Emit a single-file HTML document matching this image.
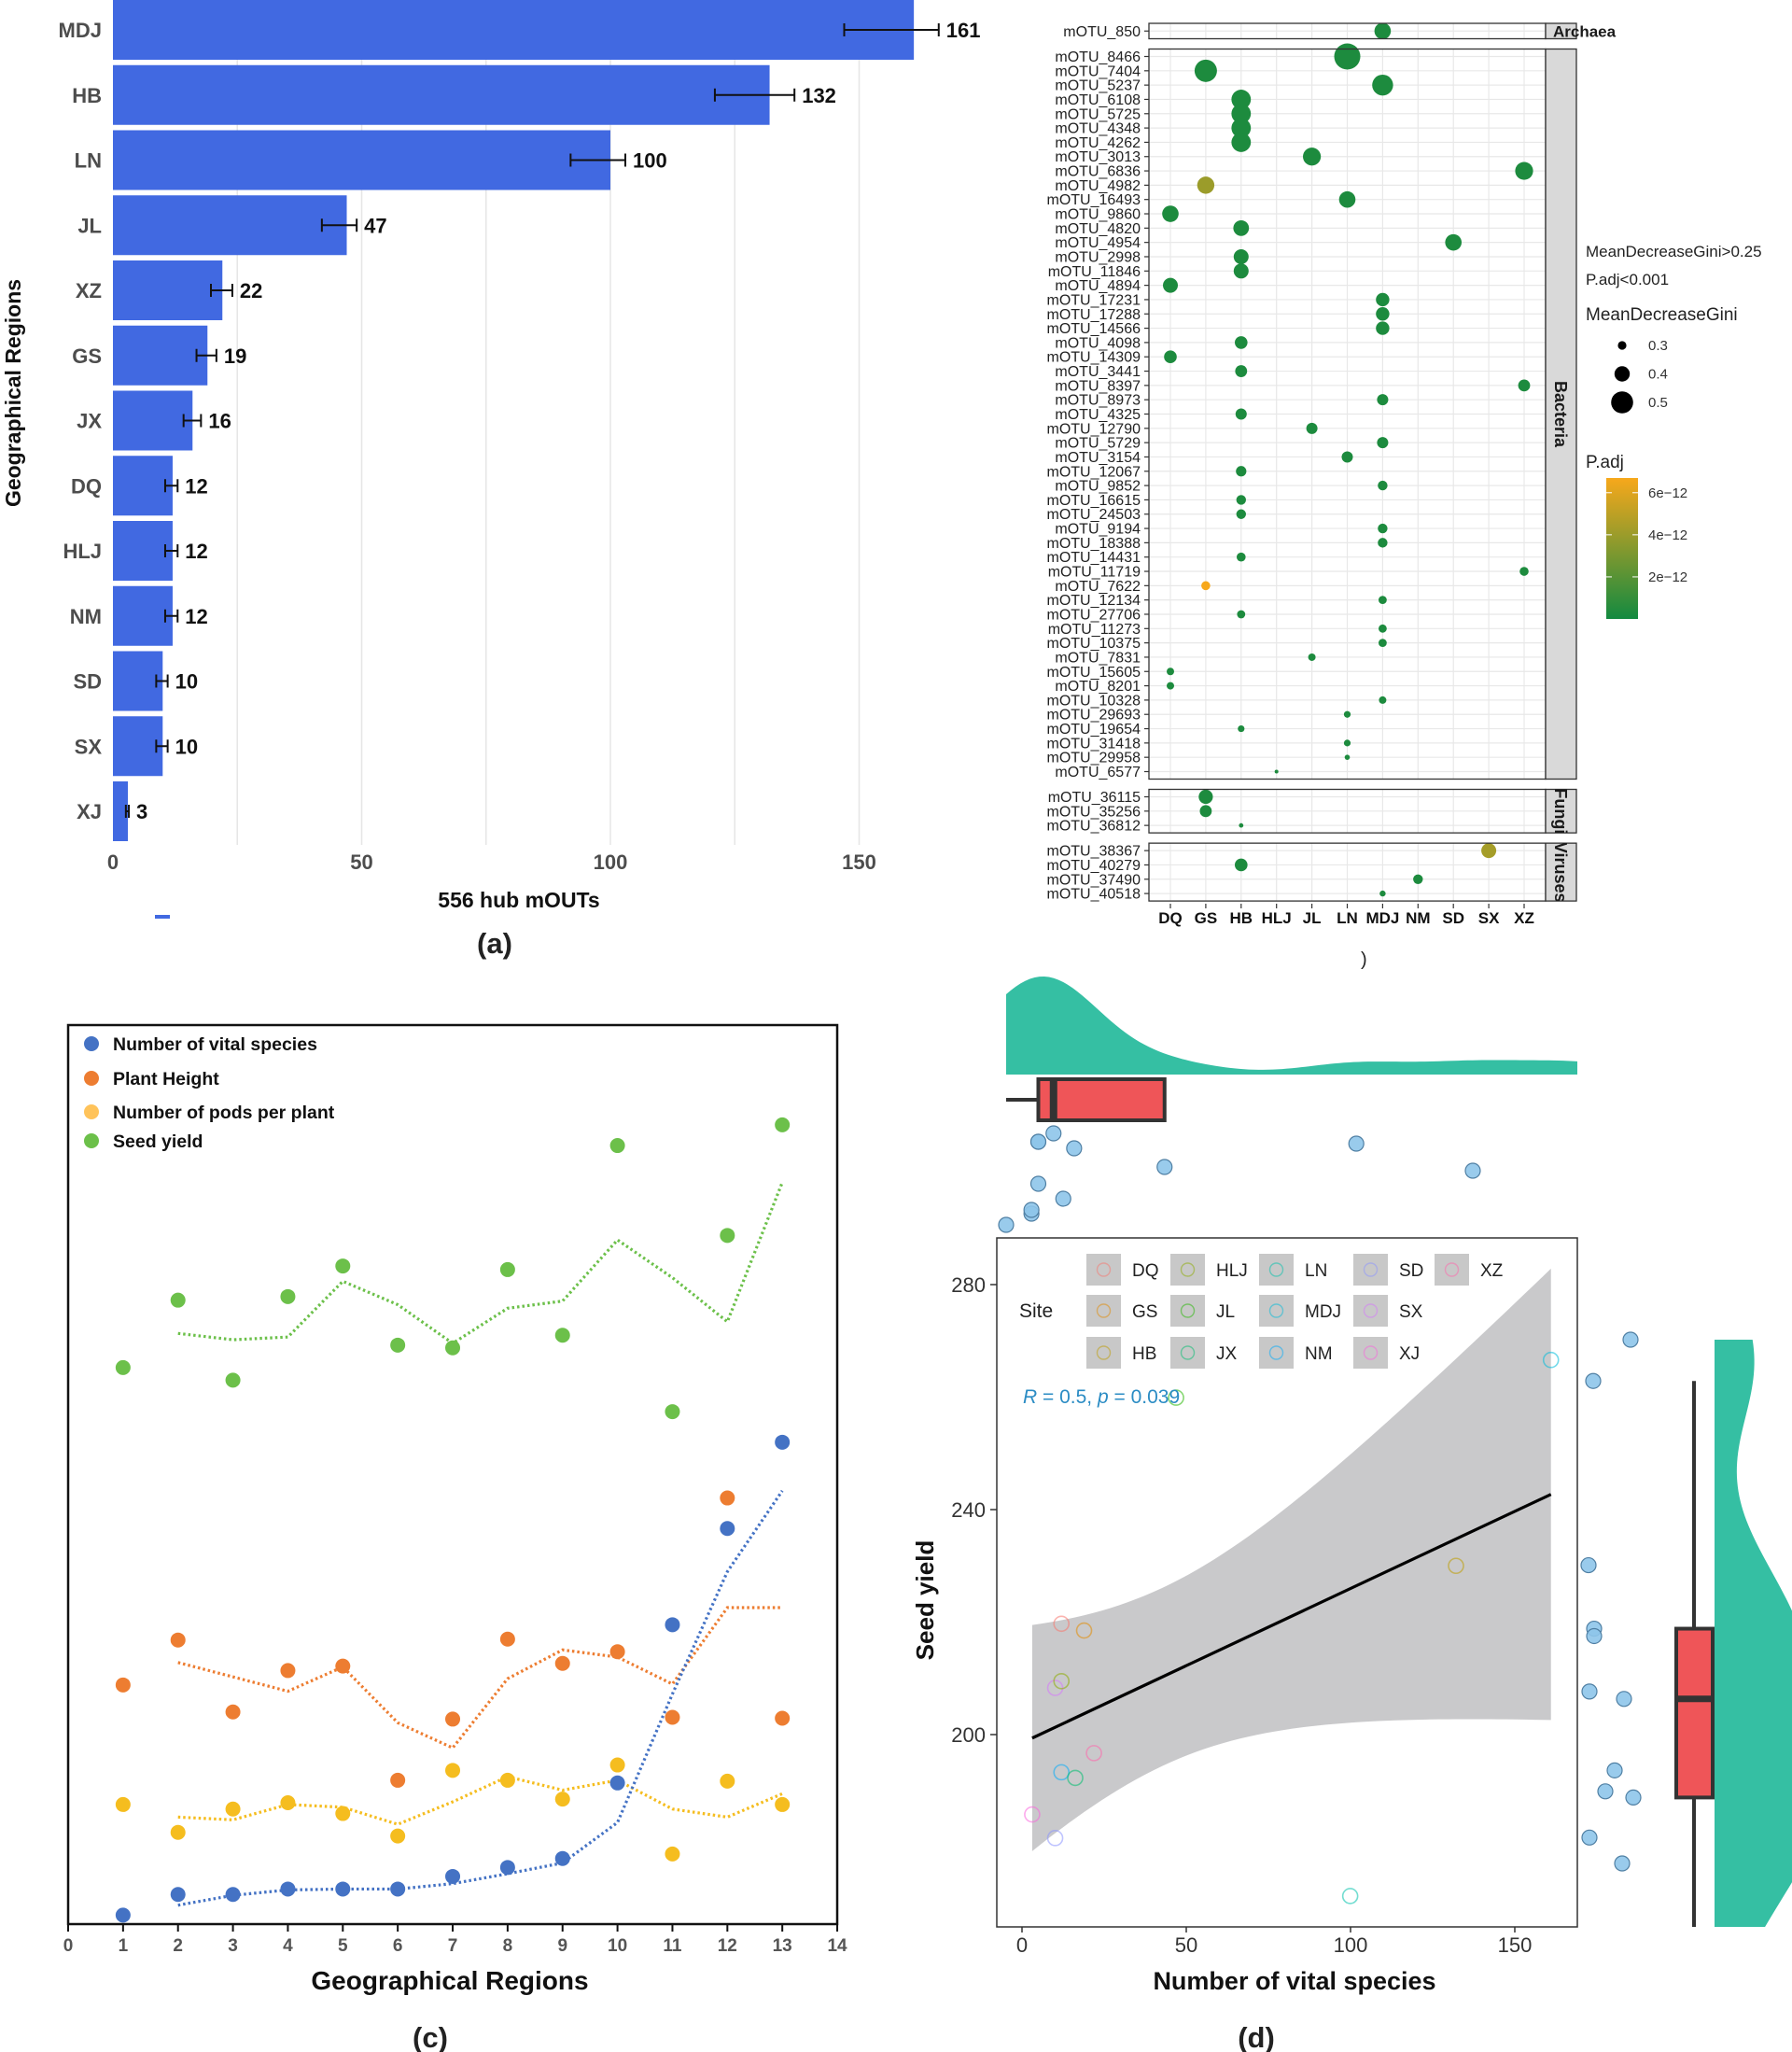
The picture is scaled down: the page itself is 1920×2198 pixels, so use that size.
<!DOCTYPE html>
<html><head><meta charset="utf-8"><style>
html,body{margin:0;padding:0;background:#fff;}
svg{display:block;font-family:"Liberation Sans",Arial,sans-serif;}
</style></head><body>
<svg id="fig" xmlns="http://www.w3.org/2000/svg" width="1920" height="2198" viewBox="0 0 1920 2198">
<rect x="0" y="0" width="1920" height="2198" fill="#fff"/>
</svg>
<script>
// ---------- Panel (a) data ----------
const regionsA=['MDJ','HB','LN','JL','XZ','GS','JX','DQ','HLJ','NM','SD','SX','XJ'];
const hubCounts=[161,132,100,47,22,19,16,12,12,12,10,10,3];
const errLow=[147,121,92,42,19.7,16.8,14.2,10.5,10.5,10.5,8.7,8.7,2.6];
const errHigh=[166,137,103,49,24,20.8,17.7,13,13,13,11,11,3.2];
const xTicksA=[0,50,100,150];
const xGridA=[25,50,75,100,125,150];
// ---------- Panel (b) data ----------
const colsB=['DQ','GS','HB','HLJ','JL','LN','MDJ','NM','SD','SX','XZ'];
const groupNames=['Archaea','Bacteria','Fungi','Viruses'];
const archaeaOtu=['mOTU_850'];
const archaeaCol=['MDJ'];
const archaeaGini=[0.42];
const archaeaPadj=[0.3e-12];
const bacteriaOtu=['mOTU_8466','mOTU_7404','mOTU_5237','mOTU_6108','mOTU_5725','mOTU_4348','mOTU_4262','mOTU_3013','mOTU_6836','mOTU_4982','mOTU_16493','mOTU_9860','mOTU_4820','mOTU_4954','mOTU_2998','mOTU_11846','mOTU_4894','mOTU_17231','mOTU_17288','mOTU_14566','mOTU_4098','mOTU_14309','mOTU_3441','mOTU_8397','mOTU_8973','mOTU_4325','mOTU_12790','mOTU_5729','mOTU_3154','mOTU_12067','mOTU_9852','mOTU_16615','mOTU_24503','mOTU_9194','mOTU_18388','mOTU_14431','mOTU_11719','mOTU_7622','mOTU_12134','mOTU_27706','mOTU_11273','mOTU_10375','mOTU_7831','mOTU_15605','mOTU_8201','mOTU_10328','mOTU_29693','mOTU_19654','mOTU_31418','mOTU_29958','mOTU_6577'];
const bacteriaCol=['LN','GS','MDJ','HB','HB','HB','HB','JL','XZ','GS','LN','DQ','HB','SD','HB','HB','DQ','MDJ','MDJ','MDJ','HB','DQ','HB','XZ','MDJ','HB','JL','MDJ','LN','HB','MDJ','HB','HB','MDJ','MDJ','HB','XZ','GS','MDJ','HB','MDJ','MDJ','JL','DQ','DQ','MDJ','LN','HB','LN','LN','HLJ'];
const bacteriaGini=[0.55,0.5,0.48,0.46,0.46,0.46,0.46,0.44,0.44,0.43,0.42,0.42,0.41,0.42,0.4,0.4,0.4,0.38,0.38,0.38,0.37,0.37,0.36,0.36,0.35,0.35,0.35,0.35,0.35,0.34,0.33,0.33,0.33,0.33,0.33,0.32,0.32,0.32,0.31,0.31,0.31,0.31,0.3,0.3,0.3,0.3,0.29,0.29,0.29,0.27,0.25];
const bacteriaPadj=[0.3e-12,0.3e-12,0.3e-12,0.3e-12,0.3e-12,0.3e-12,0.3e-12,0.3e-12,0.3e-12,4e-12,0.3e-12,0.3e-12,0.3e-12,0.3e-12,0.3e-12,0.3e-12,0.3e-12,0.3e-12,0.3e-12,0.3e-12,0.3e-12,0.3e-12,0.3e-12,0.3e-12,0.3e-12,0.3e-12,0.3e-12,0.3e-12,0.3e-12,0.3e-12,0.3e-12,0.3e-12,0.3e-12,0.3e-12,0.3e-12,0.3e-12,0.3e-12,6.7e-12,0.3e-12,0.3e-12,0.3e-12,0.3e-12,0.3e-12,0.3e-12,0.3e-12,0.3e-12,0.3e-12,0.3e-12,0.3e-12,0.3e-12,0.3e-12];
const fungiOtu=['mOTU_36115','mOTU_35256','mOTU_36812'];
const fungiCol=['GS','GS','HB'];
const fungiGini=[0.39,0.36,0.26];
const fungiPadj=[0.3e-12,0.3e-12,0.3e-12];
const virusOtu=['mOTU_38367','mOTU_40279','mOTU_37490','mOTU_40518'];
const virusCol=['SX','HB','NM','MDJ'];
const virusGini=[0.4,0.37,0.33,0.28];
const virusPadj=[4.3e-12,0.3e-12,0.3e-12,0.3e-12];
const sizeLegend=[0.3,0.4,0.5];
const padjTicks=[2e-12,4e-12,6e-12];
const padjTickLabels=['2e\u221212','4e\u221212','6e\u221212'];
// ---------- Panel (c) data ----------
const regionsC=[1,2,3,4,5,6,7,8,9,10,11,12,13];
const trendX=[2,3,4,5,6,7,8,9,10,11,12,13];
const vitalC=[1.0,3.3,3.3,3.9,3.9,3.9,5.3,6.3,7.3,15.7,33.3,44.0,53.6];
const vitalTrend=[2.1,3.2,3.8,3.9,3.9,4.5,5.6,6.8,11.3,25.6,39.2,48.2];
const heightC=[26.6,31.6,23.6,28.2,28.7,16.0,22.8,31.7,29.0,30.3,23.0,47.4,22.9];
const heightTrend=[29.1,27.5,25.9,28.6,22.4,19.6,27.3,30.5,29.7,26.7,35.2,35.2];
const podsC=[13.3,10.2,12.8,13.5,12.3,9.8,17.1,16.0,13.9,17.7,7.8,15.9,13.3];
const podsTrend=[11.9,11.6,13.3,13.0,11.1,13.6,16.4,14.9,16.0,12.8,11.9,14.5];
const yieldC=[61.9,69.4,60.5,69.8,73.2,64.4,64.1,72.8,65.5,86.6,57.0,76.6,88.9];
const yieldTrend=[65.7,65.0,65.3,71.5,68.9,64.6,68.5,69.3,76.1,71.9,67.0,82.5];
const xTicksC=[0,1,2,3,4,5,6,7,8,9,10,11,12,13,14];
const legendC=['Number of vital species','Plant Height','Number of pods per plant','Seed yield'];
// ---------- Panel (d) data ----------
const dSites=['XJ','SD','SX','DQ','GS','HLJ','XZ','NM','JX','HB','LN','MDJ','JL'];
const vitalSpecies=[3.1,10.1,10.1,12,18.9,12,21.9,12,16.2,132.1,99.9,161,46.9];
const seedYield=[185.8,181.6,208.3,219.7,218.5,209.5,196.7,193.3,192.3,230,171.3,266.6,259.9];
const jitterTopY=[1312,1300,1296,1268,1284,1223,1230,1223,1214,1254,1225,null,1250];
const jitterRightX=[1703,1738,1740,1708,1708,1703,1730,1720,1750,1702,null,1747,1707];
const siteOrder=['DQ','GS','HB','HLJ','JL','JX','LN','MDJ','NM','SD','SX','XJ','XZ'];
const siteColors=['#F8766D','#E18A00','#BE9C00','#8CAB00','#24B700','#00BE70','#00C1AB','#00BBDA','#00ACFC','#8B93FF','#D575FE','#F962DD','#FF65AC'];
const legendRowsD=[['DQ','HLJ','LN','SD','XZ'],['GS','JL','MDJ','SX'],['HB','JX','NM','XJ']];
const xTicksD=[0,50,100,150];
const yTicksD=[200,240,280];

const NS='http://www.w3.org/2000/svg';
const svg=document.getElementById('fig');
function mk(tag,attrs,parent){const e=document.createElementNS(NS,tag);for(const k in attrs)e.setAttribute(k,attrs[k]);(parent||svg).appendChild(e);return e;}
function tx(str,attrs,parent){const e=mk('text',attrs,parent);e.textContent=str;return e;}
function grp(name){const g=mk('g',{});return g;}

// ================= Panel A =================
(function(){
  const g=grp('panel-a-bar-chart');
  const xA=v=>121+v*5.33;
  const yA=i=>32+i*69.75;
  xGridA.forEach(v=>{const l=mk('line',{x1:xA(v),x2:xA(v),y1:0,y2:905,stroke:'#e6e6e6','stroke-width':1.5},g);
    });
  regionsA.forEach((r,i)=>{
    const b=mk('rect',{x:xA(0),y:yA(i)-32,width:xA(hubCounts[i])-xA(0),height:64,fill:'#4169e1'},g);
    
    const eg=mk('g',{stroke:'#111','stroke-width':2},g);
    
    mk('line',{x1:xA(errLow[i]),x2:xA(errHigh[i]),y1:yA(i),y2:yA(i)},eg);
    mk('line',{x1:xA(errLow[i]),x2:xA(errLow[i]),y1:yA(i)-7,y2:yA(i)+7},eg);
    mk('line',{x1:xA(errHigh[i]),x2:xA(errHigh[i]),y1:yA(i)-7,y2:yA(i)+7},eg);
    const vl=tx(String(hubCounts[i]),{x:xA(errHigh[i])+8,y:yA(i)+8,'font-size':22,'font-weight':'bold',fill:'#111'},g);
    
    const cl=tx(r,{x:109,y:yA(i)+8,'font-size':22,'font-weight':'bold',fill:'#4d4d4d','text-anchor':'end'},g);
    
  });
  xTicksA.forEach(v=>{const t=tx(String(v),{x:xA(v),y:931,'font-size':22,'font-weight':'bold',fill:'#4d4d4d','text-anchor':'middle'},g);
    });
  const xt=tx('556 hub mOUTs',{x:556,y:972,'font-size':23,'font-weight':'bold',fill:'#111','text-anchor':'middle'},g);
  
  const yt=tx('Geographical Regions',{x:0,y:0,'font-size':23,'font-weight':'bold',fill:'#111','text-anchor':'middle',transform:'translate(22,421) rotate(-90)'},g);
  
  const dash=mk('rect',{x:166,y:980,width:16,height:4,fill:'#4169e1'},g);
  
  const pl=tx('(a)',{x:530,y:1021,'font-size':31,'font-weight':'bold',fill:'#222','text-anchor':'middle'},g);
  
})();

// ================= Panel B =================
(function(){
  const g=grp('panel-b-bubble-chart');
  const L=1231,R=1656,SR=1689,pitch=15.32;
  const xB=c=>1254+colsB.indexOf(c)*37.9;
  const rB=v=>Math.max(2,2+(v-0.25)*40);
  const cG=[19,138,64],cO=[247,168,27];
  const pMax=6.7e-12;
  const colB=p=>{const t=Math.min(1,Math.max(0,p/pMax));const c=cG.map((a,k)=>Math.round(a+(cO[k]-a)*t));return 'rgb('+c.join(',')+')';};
  const groups=[[archaeaOtu,archaeaCol,archaeaGini,archaeaPadj],[bacteriaOtu,bacteriaCol,bacteriaGini,bacteriaPadj],[fungiOtu,fungiCol,fungiGini,fungiPadj],[virusOtu,virusCol,virusGini,virusPadj]];
  let top=25;
  const defs=mk('defs',{},svg);
  groups.forEach((gr,gi)=>{
    const n=gr[0].length;
    const h=(n===1)?16.5:(n-1)*pitch+16;
    const pg=mk('g',{},g);
    
    mk('rect',{x:L,y:top,width:R-L,height:h,fill:'#fff'},pg);
    const rowY=i=>(n===1)?top+h/2:top+8+i*pitch;
    colsB.forEach(c=>mk('line',{x1:xB(c),x2:xB(c),y1:top,y2:top+h,stroke:'#e8e8e8','stroke-width':1.2},pg));
    for(let i=0;i<n;i++){
      const y=rowY(i);
      mk('line',{x1:L,x2:R,y1:y,y2:y,stroke:'#e8e8e8','stroke-width':1.2},pg);
      mk('line',{x1:1226,x2:L,y1:y,y2:y,stroke:'#333','stroke-width':1.2},pg);
      const lb=tx(gr[0][i],{x:1222,y:y+5.5,'font-size':16,fill:'#222','text-anchor':'end'},pg);
      
    }
    for(let i=0;i<n;i++){
      const d=mk('circle',{cx:xB(gr[1][i]),cy:rowY(i),r:rB(gr[2][i]),fill:colB(gr[3][i])},pg);
      
    }
    mk('rect',{x:L,y:top,width:R-L,height:h,fill:'none',stroke:'#333','stroke-width':1.3},pg);
    const st=mk('rect',{x:R,y:top,width:SR-R,height:h,fill:'#d9d9d9',stroke:'#333','stroke-width':1.3},pg);
    
    if(gi===0){
      const s=tx(groupNames[gi],{x:1664,y:top+h/2+6,'font-size':17,'font-weight':'bold',fill:'#1a1a1a'},pg);
      
    } else {
      const cp=mk('clipPath',{id:'clip'+gi},defs);
      mk('rect',{x:R,y:top,width:SR-R,height:h},cp);
      const s=tx(groupNames[gi],{x:0,y:0,'font-size':18,'font-weight':'bold',fill:'#1a1a1a','text-anchor':'middle','clip-path':'url(#clip'+gi+')'},pg);
      s.setAttribute('transform','translate('+(R+10)+','+(top+h/2)+') rotate(90)');
      s.removeAttribute('clip-path');
      const wrap=mk('g',{'clip-path':'url(#clip'+gi+')'},pg);
      wrap.appendChild(s);
      
    }
    top+=h+11;
  });
  colsB.forEach(c=>{
    mk('line',{x1:xB(c),x2:xB(c),y1:968,y2:973,stroke:'#333','stroke-width':1.2},g);
    const t=tx(c,{x:xB(c),y:989,'font-size':17,'font-weight':'bold',fill:'#111','text-anchor':'middle'},g);
    
  });
  const lg=grp('panel-b-legend');
  tx('MeanDecreaseGini>0.25',{x:1699,y:275,'font-size':17,fill:'#222'},lg);
  tx('P.adj<0.001',{x:1699,y:305,'font-size':17,fill:'#222'},lg);
  tx('MeanDecreaseGini',{x:1699,y:343,'font-size':19,fill:'#222'},lg);
  sizeLegend.forEach((v,i)=>{
    const y=370+i*30.5;
    const d=mk('circle',{cx:1738,cy:y,r:rB(v)*0.9+1,fill:'#000'},lg);
    
    tx(String(v),{x:1766,y:y+5,'font-size':15,fill:'#333'},lg);
  });
  tx('P.adj',{x:1699,y:501,'font-size':19,fill:'#222'},lg);
  const grad=mk('linearGradient',{id:'padjGrad',x1:0,y1:1,x2:0,y2:0},defs);
  mk('stop',{offset:'0',"stop-color":colB(0)},grad);
  mk('stop',{offset:'0.5',"stop-color":colB(pMax/2)},grad);
  mk('stop',{offset:'1',"stop-color":colB(pMax)},grad);
  const yP=p=>663-p/pMax*151;
  const cb=mk('rect',{x:1721,y:512,width:34,height:151,fill:'url(#padjGrad)'},lg);
  
  padjTicks.forEach((p,i)=>{
    mk('line',{x1:1721,x2:1727,y1:yP(p),y2:yP(p),stroke:'#fff','stroke-width':1},lg);
    mk('line',{x1:1749,x2:1755,y1:yP(p),y2:yP(p),stroke:'#fff','stroke-width':1},lg);
    tx(padjTickLabels[i],{x:1766,y:yP(p)+5,'font-size':15,fill:'#333'},lg);
  });
  tx(')',{x:1458,y:1034,'font-size':20,fill:'#222'},g);
})();

// ================= Panel C =================
(function(){
  const g=grp('panel-c-line-chart');
  const xC=v=>73+v*58.86;
  const yC=v=>2061-v*9.63;
  const series=[[vitalC,vitalTrend,'#4472c4','#4472c4','vital-species'],[heightC,heightTrend,'#ed7d31','#ed7d31','plant-height'],[podsC,podsTrend,'#f5bd1f','#ffc35a','pods-per-plant'],[yieldC,yieldTrend,'#6cc04a','#6cc04a','seed-yield']];
  const frame=mk('rect',{x:73,y:1098,width:824,height:963,fill:'#fff',stroke:'#111','stroke-width':2.5},g);
  
  series.slice().reverse().forEach(s=>{
    const pts=trendX.map((x,i)=>xC(x)+','+yC(s[1][i])).join(' ');
    const l=mk('polyline',{points:pts,fill:'none',stroke:s[2],'stroke-width':3.2,'stroke-dasharray':'2.5 3'},g);
    
  });
  series.forEach(s=>{
    regionsC.forEach((x,i)=>{
      const d=mk('circle',{cx:xC(x),cy:yC(s[0][i]),r:8,fill:s[2]},g);
      
    });
  });
  xTicksC.forEach(v=>{
    mk('line',{x1:xC(v),x2:xC(v),y1:2061,y2:2069,stroke:'#111','stroke-width':2},g);
    const t=tx(String(v),{x:xC(v),y:2090,'font-size':19,'font-weight':'bold',fill:'#555','text-anchor':'middle'},g);
    
  });
  const xt=tx('Geographical Regions',{x:482,y:2131,'font-size':28,'font-weight':'bold',fill:'#111','text-anchor':'middle'},g);
  
  legendC.forEach((name,i)=>{
    const y=[1118,1155,1191,1222][i];
    const e=mk('g',{},g);
    
    mk('circle',{cx:98,cy:y,r:8,fill:series[i][3]},e);
    tx(name,{x:121,y:y+7,'font-size':19.5,'font-weight':'bold',fill:'#111'},e);
  });
  const pl=tx('(c)',{x:461,y:2193,'font-size':31,'font-weight':'bold',fill:'#222','text-anchor':'middle'},g);
  
})();

// ================= Panel D =================
(function(){
  const g=grp('panel-d-scatter-chart');
  const xD=v=>1095+v*3.52;
  const yD=v=>1858-(v-200)*6.025;
  const n=vitalSpecies.length;
  const mx=vitalSpecies.reduce((a,b)=>a+b,0)/n, my=seedYield.reduce((a,b)=>a+b,0)/n;
  let sxx=0,sxy=0,syy=0;
  for(let i=0;i<n;i++){const dx=vitalSpecies[i]-mx,dy=seedYield[i]-my;sxx+=dx*dx;sxy+=dx*dy;syy+=dy*dy;}
  const slope=sxy/sxx,icpt=my-slope*mx;
  const s=Math.sqrt((syy-sxy*sxy/sxx)/(n-2)),tq=2.201;
  const xmin=Math.min(...vitalSpecies),xmax=Math.max(...vitalSpecies);
  mk('rect',{x:1068,y:1326,width:622,height:738,fill:'#fff'},g);
  const up=[],lo=[];
  for(let k=0;k<=60;k++){
    const x=xmin+(xmax-xmin)*k/60;
    const f=icpt+slope*x;
    const se=tq*s*Math.sqrt(1/n+(x-mx)*(x-mx)/sxx);
    up.push(xD(x)+','+yD(f+se));lo.unshift(xD(x)+','+yD(f-se));
  }
  const band=mk('polygon',{points:up.concat(lo).join(' '),fill:'#c9c9cb'},g);
  
  const rl=mk('line',{x1:xD(xmin),y1:yD(icpt+slope*xmin),x2:xD(xmax),y2:yD(icpt+slope*xmax),stroke:'#000','stroke-width':3.2},g);
  
  for(let i=0;i<n;i++){
    const c=siteColors[siteOrder.indexOf(dSites[i])];
    const p=mk('circle',{cx:xD(vitalSpecies[i]),cy:yD(seedYield[i]),r:8,fill:'none',stroke:c,'stroke-opacity':0.55,'stroke-width':1.6},g);
    
  }
  const fr=mk('rect',{x:1068,y:1326,width:622,height:738,fill:'none',stroke:'#333','stroke-width':1.5},g);
  
  xTicksD.forEach(v=>{
    mk('line',{x1:xD(v),x2:xD(v),y1:2064,y2:2070,stroke:'#333','stroke-width':1.5},g);
    const t=tx(String(v),{x:xD(v),y:2091,'font-size':22,fill:'#333','text-anchor':'middle'},g);
    
  });
  yTicksD.forEach(v=>{
    mk('line',{x1:1061,x2:1068,y1:yD(v),y2:yD(v),stroke:'#333','stroke-width':1.5},g);
    const t=tx(String(v),{x:1056,y:yD(v)+8,'font-size':22,fill:'#333','text-anchor':'end'},g);
    
  });
  const xt=tx('Number of vital species',{x:1387,y:2131,'font-size':27,'font-weight':'bold',fill:'#111','text-anchor':'middle'},g);
  
  const yt=tx('Seed yield',{x:0,y:0,'font-size':26,'font-weight':'bold',fill:'#111','text-anchor':'middle',transform:'translate(1000,1714) rotate(-90)'},g);
  
  // legend
  const lg=grp('panel-d-legend');
  const keyX=[1164,1254,1349,1450,1537],labX=[1213,1303,1398,1499,1586],rowY=[1360,1404,1449];
  tx('Site',{x:1092,y:1411,'font-size':21,fill:'#222'},lg);
  legendRowsD.forEach((row,ri)=>row.forEach((site,ci)=>{
    const e=mk('g',{},lg);
    
    mk('rect',{x:keyX[ci],y:rowY[ri]-17,width:37,height:34,fill:'#c8c8c8'},e);
    mk('circle',{cx:keyX[ci]+18.5,cy:rowY[ri],r:7,fill:'none',stroke:siteColors[siteOrder.indexOf(site)],'stroke-opacity':0.5,'stroke-width':1.4},e);
    tx(site,{x:labX[ci],y:rowY[ri]+7,'font-size':19,fill:'#222'},e);
  }));
  const rt=mk('text',{x:1096,y:1503,'font-size':21,fill:'#2b8cc4'},g);
  
  rt.innerHTML='<tspan font-style="italic">R</tspan> = 0.5, <tspan font-style="italic">p</tspan> = 0.039';
  // KDE helper
  const kde=(arr,bw,x)=>arr.reduce((a,v)=>a+Math.exp(-0.5*((x-v)/bw)**2),0)/(arr.length*bw*Math.sqrt(2*Math.PI));
  // top marginal
  const xm=v=>1078+(v-xmin)*((1690-1078)/(xmax-xmin));
  const bwX=14.9;
  let dmax=0;const dens=[];
  for(let k=0;k<=120;k++){const x=xmin+(xmax-xmin)*k/120;const d=kde(vitalSpecies,bwX,x);dens.push([x,d]);dmax=Math.max(dmax,d);}
  const tp=['M'+xm(xmin)+',1151'].concat(dens.map(p=>'L'+xm(p[0])+','+(1151-p[1]/dmax*105))).concat(['L'+xm(xmax)+',1151Z']).join(' ');
  const td=mk('path',{d:tp,fill:'#35bfa3'},g);
  
  const q=(arr,p)=>{const s=arr.slice().sort((a,b)=>a-b);const h=(s.length-1)*p;const lo=Math.floor(h);return s[lo]+(s[Math.min(lo+1,s.length-1)]-s[lo])*(h-lo);};
  const q1x=q(vitalSpecies,0.25),q2x=q(vitalSpecies,0.5),q3x=q(vitalSpecies,0.75);
  const tb=mk('g',{},g);
  
  mk('line',{x1:xm(xmin),x2:xm(q1x),y1:1178,y2:1178,stroke:'#333','stroke-width':4},tb);
  mk('rect',{x:xm(q1x),y:1156,width:xm(q3x)-xm(q1x),height:44,fill:'#ef5558',stroke:'#333','stroke-width':4},tb);
  mk('line',{x1:xm(q2x),x2:xm(q2x),y1:1156,y2:1200,stroke:'#333','stroke-width':8},tb);
  for(let i=0;i<n;i++){ if(jitterTopY[i]===null) continue;
    const d=mk('circle',{cx:xm(vitalSpecies[i]),cy:jitterTopY[i],r:8,fill:'#8ec5ea',stroke:'#4f7fa3','stroke-width':1.2,'fill-opacity':0.9},g);
    }
  // right marginal
  const ymin=Math.min(...seedYield),ymax=Math.max(...seedYield);
  const yR=v=>1435+(ymax-v)/(ymax-ymin)*629;
  const bwY=11.0;
  let rmax=0;const rd=[];
  for(let k=0;k<=120;k++){const y=ymin+(ymax-ymin)*k/120;const d=kde(seedYield,bwY,y);rd.push([y,d]);rmax=Math.max(rmax,d);}
  const rp=['M1837,'+yR(ymin)].concat(rd.map(p=>'L'+(1837+p[1]/rmax*118)+','+yR(p[0]))).concat(['L1837,'+yR(ymax)+'Z']).join(' ');
  const rdn=mk('path',{d:rp,fill:'#35bfa3'},g);
  
  const q1y=q(seedYield,0.25),q2y=q(seedYield,0.5),q3y=q(seedYield,0.75);
  const iqr=q3y-q1y;
  const whiHi=Math.max(...seedYield.filter(v=>v<=q3y+1.5*iqr)),whiLo=Math.min(...seedYield.filter(v=>v>=q1y-1.5*iqr));
  const rb=mk('g',{},g);
  
  mk('line',{x1:1815,x2:1815,y1:yR(whiHi),y2:yR(whiLo),stroke:'#333','stroke-width':4},rb);
  mk('rect',{x:1796,y:yR(q3y),width:39,height:yR(q1y)-yR(q3y),fill:'#ef5558',stroke:'#333','stroke-width':4},rb);
  mk('line',{x1:1796,x2:1835,y1:yR(q2y),y2:yR(q2y),stroke:'#333','stroke-width':7},rb);
  for(let i=0;i<n;i++){ if(jitterRightX[i]===null) continue;
    const d=mk('circle',{cx:jitterRightX[i],cy:yR(seedYield[i]),r:8,fill:'#8ec5ea',stroke:'#4f7fa3','stroke-width':1.2,'fill-opacity':0.9},g);
    }
  const pl=tx('(d)',{x:1346,y:2193,'font-size':31,'font-weight':'bold',fill:'#222','text-anchor':'middle'},g);
  
})();
</script>
</body></html>
